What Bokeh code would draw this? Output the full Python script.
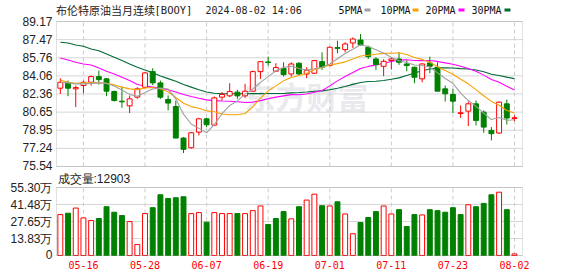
from bokeh.plotting import figure
from bokeh.models import Range1d, FixedTicker, Label, BoxAnnotation, ColumnDataSource
from bokeh.embed import file_html
from bokeh.resources import INLINE

# ---------------- data ----------------
dates = ["05-13","05-14","05-15","05-16","05-17","05-20","05-21","05-22","05-23","05-24",
         "05-27","05-28","05-29","05-30","05-31","06-03","06-04","06-05","06-06","06-07",
         "06-10","06-11","06-12","06-13","06-14","06-17","06-18","06-19","06-20","06-21",
         "06-24","06-25","06-26","06-27","06-28","07-01","07-02","07-03","07-04","07-05",
         "07-08","07-09","07-10","07-11","07-12","07-15","07-16","07-17","07-18","07-19",
         "07-22","07-23","07-24","07-25","07-26","07-29","07-30","07-31","08-01","08-02"]
tick_dates = ["05-16","05-28","06-07","06-19","07-01","07-11","07-23","08-02"]

opens = [82.90,83.40,82.84,83.15,83.46,83.99,83.78,82.59,81.68,81.24,
         82.06,82.99,84.46,83.40,81.84,81.18,78.21,77.30,78.77,80.02,
         79.43,82.06,82.18,82.53,82.18,82.62,84.46,85.37,84.50,84.78,
         84.24,85.25,84.24,84.31,85.40,85.03,86.72,86.53,87.15,87.43,
         86.75,85.65,84.96,85.50,85.65,85.18,84.87,83.78,85.28,84.87,
         82.84,82.31,80.52,80.74,81.43,80.65,78.93,78.68,81.43,80.06]
highs = [83.84,83.62,83.15,83.62,84.09,84.56,83.84,82.68,83.06,82.21,
         82.99,84.40,84.78,83.62,82.21,81.74,78.30,78.77,80.12,80.12,
         82.12,82.53,83.37,82.74,83.31,84.56,85.40,85.87,85.25,85.34,
         85.34,85.34,84.87,85.56,86.28,86.81,87.37,87.22,87.68,88.00,
         86.90,85.81,85.62,85.81,86.28,85.50,84.93,85.25,85.87,85.34,
         83.15,82.84,81.27,81.65,81.74,80.81,79.24,81.65,81.84,80.34]
lows = [82.37,82.15,81.12,82.43,83.15,83.24,82.15,81.65,81.06,80.56,
        81.90,82.90,83.21,81.90,80.81,78.21,76.80,77.21,78.46,79.24,
        79.37,81.74,82.06,81.90,81.99,82.62,83.78,85.03,84.43,83.99,
        83.99,84.09,83.84,84.24,84.62,84.96,86.18,86.28,86.68,86.90,
        85.65,84.62,84.03,84.65,85.09,84.50,83.37,83.46,84.31,82.62,
        81.65,80.56,80.12,79.34,79.40,78.71,77.99,78.62,79.49,79.80]
closes = [83.46,82.90,82.96,83.46,83.99,83.71,82.62,81.74,81.62,81.90,
          82.84,84.34,83.40,82.06,81.50,78.21,77.15,78.71,80.02,79.46,
          81.99,82.31,82.59,82.18,82.62,84.46,85.40,85.31,84.84,84.18,
          85.18,84.24,84.56,85.50,84.87,86.75,86.65,87.06,87.53,86.97,
          85.87,85.12,85.43,85.65,85.34,85.03,83.93,85.18,84.96,82.62,
          82.37,81.68,80.59,81.43,79.87,79.24,78.62,81.59,80.09,80.12]

ma5 = [83.46,83.40,83.31,83.31,83.35,83.40,83.35,83.10,82.74,82.32,
       82.14,82.49,82.82,82.91,82.83,81.90,80.46,79.53,79.12,78.71,
       79.47,80.50,81.27,81.71,82.34,82.83,83.45,83.99,84.53,84.84,
       84.98,84.75,84.60,84.73,84.87,85.18,85.67,86.17,86.57,86.99,
       86.82,86.51,86.18,85.81,85.48,85.31,85.08,85.03,84.89,84.34,
       83.81,83.36,82.44,81.74,81.19,80.56,79.95,80.15,79.88,79.93]
ma10 = [83.68,83.46,83.37,83.40,83.40,83.40,83.37,83.21,83.00,82.84,
        82.77,82.92,82.96,82.82,82.57,82.02,81.48,81.17,81.01,80.77,
        80.68,80.48,80.40,80.41,80.52,81.15,81.97,82.63,83.12,83.59,
        83.91,84.10,84.30,84.63,84.85,85.08,85.21,85.38,85.65,85.93,
        86.00,86.09,86.18,86.19,86.24,86.07,85.79,85.61,85.35,84.91,
        84.56,84.22,83.74,83.31,82.77,82.19,81.66,81.30,80.81,80.56]
ma20 = [85.75,85.56,85.34,85.18,85.09,84.81,84.50,84.24,83.93,83.62,
        83.25,83.10,83.00,82.90,82.75,82.55,82.30,82.12,81.95,81.80,
        81.73,81.70,81.68,81.62,81.55,81.59,81.73,81.90,82.06,82.18,
        82.30,82.29,82.35,82.52,82.69,83.12,83.59,84.01,84.38,84.76,
        84.95,85.09,85.24,85.41,85.55,85.57,85.50,85.49,85.50,85.42,
        85.28,85.15,84.96,84.75,84.50,84.13,83.72,83.45,83.08,82.74]
ma30 = [87.22,87.15,86.97,86.84,86.59,86.43,86.12,85.81,85.50,85.18,
        84.87,84.62,84.35,84.05,83.80,83.55,83.25,83.00,82.75,82.55,
        82.42,82.38,82.38,82.38,82.38,82.39,82.39,82.40,82.40,82.40,
        82.46,82.50,82.55,82.62,82.65,82.75,82.89,83.06,83.26,83.43,
        83.53,83.56,83.62,83.74,83.87,84.10,84.33,84.54,84.71,84.81,
        84.82,84.80,84.74,84.71,84.62,84.45,84.22,84.10,83.94,83.80]

# volume in 万 (10k)
volumes = [33.3,34.4,38.6,30.6,28.5,30.1,39.7,35.2,32.5,27.6,
           8.9,34.1,38.9,49.4,46.4,47.0,47.8,34.1,34.9,27.1,
           34.9,34.1,34.1,34.1,34.1,36.5,40.3,25.2,30.1,35.7,
           29.8,39.7,45.1,49.9,40.5,40.3,43.7,33.8,17.7,26.8,
           30.9,35.7,40.3,33.8,37.3,23.6,33.3,33.0,37.3,36.5,
           35.2,38.9,33.3,41.3,39.7,42.4,49.4,51.5,37.3,1.2903]
vol_up = [1,0,1,1,1,0,0,0,0,1, 1,1,0,0,0,0,0,1,1,0,
          1,1,1,0,1,1,1,0,0,0, 1,0,1,1,0,1,0,1,1,0,
          0,0,1,1,0,0,0,1,0,0, 0,0,0,1,0,0,0,1,0,1]

price_ticks = [75.54, 77.24, 78.95, 80.65, 82.36, 84.06, 85.76, 87.47, 89.17]
vol_ticks = [0, 13.83, 27.65, 41.48, 55.30]
vol_tick_labels = ["0", "13.83万", "27.65万", "41.48万", "55.30万"]
title_name = "布伦特原油当月连续"
title_code = "[BOOY]"
title_time = "2024-08-02 14:06"
last_volume_text = "成交量:12903"
ma_names = ["5PMA", "10PMA", "20PMA", "30PMA"]

# ---------------- styles / layout ----------------
RED = "#ff0000"
GREEN = "#008000"
MA_COLORS = ["#a0a0a0", "#f5a300", "#ff00ff", "#006b36"]
GRID_H = "#d6d6d6"
GRID_V = "#cccccc"
FRAME = "#9a9a9a"
TXT = "#222222"
MONO = "DejaVu Sans Mono"
SANS = "Liberation Sans"
CJK = "Noto Sans CJK SC"

n = len(dates)
idx = list(range(n))
# data areas on the page (pixels) and their data extents
X0, X1 = -0.5, 60.04          # page x 56 .. 522
P_LO, P_HI = 75.535, 89.175   # page y 166 .. 21  (price pane)
V_LO, V_HI = 0.0, 55.32       # page y 255 .. 187 (volume pane)
KX = (X1 - X0) / 466.0
KP = (P_HI - P_LO) / 145.0
KV = (V_HI - V_LO) / 68.0
FRAME_BOTTOM = 256            # frame covers page y 0 .. 256, x 55 .. 523

def xpx(px):
    return X0 + (px - 56) * KX

def ypx_price(py):
    return P_HI - (py - 21) * KP

def ypx_vol(py):
    return V_HI - (py - 187) * KV

def vol_to_price(vv):
    return round(ypx_price(255 - (vv - V_LO) / KV), 4)

x_range = Range1d(X0 - KX, X1 + KX)
y_range = Range1d(ypx_price(FRAME_BOTTOM), ypx_price(0))
vol_range = Range1d(ypx_vol(FRAME_BOTTOM), ypx_vol(0))

tick_idx = [dates.index(d) for d in tick_dates]

p = figure(width=578, height=276, x_range=x_range, y_range=y_range,
           min_border_left=55, min_border_right=55, min_border_top=0,
           min_border_bottom=276 - FRAME_BOTTOM,
           output_backend="svg", toolbar_location=None)
p.extra_y_ranges = {"vol": vol_range}
p.background_fill_color = "white"
p.border_fill_color = "white"
p.outline_line_color = None
p.grid.visible = False

# left axis: price ticks for the upper pane, volume ticks for the lower pane
ya = p.yaxis[0]
vol_tick_pos = [vol_to_price(t) for t in vol_ticks]
ya.ticker = FixedTicker(ticks=price_ticks + vol_tick_pos)
overrides = {t: f"{t:.2f}" for t in price_ticks}
overrides.update({pos: lab for pos, lab in zip(vol_tick_pos, vol_tick_labels)})
ya.major_label_overrides = overrides
ya.axis_line_color = None
ya.major_tick_line_color = None
ya.minor_tick_line_color = None
ya.major_tick_out = 0
ya.major_tick_in = 0
ya.major_label_standoff = 3
ya.major_label_text_font = SANS
ya.major_label_text_font_size = "12px"
ya.major_label_text_color = TXT

xa = p.xaxis[0]
xa.ticker = FixedTicker(ticks=tick_idx)
xa.major_label_overrides = {i: d for i, d in zip(tick_idx, tick_dates)}
xa.axis_line_color = None
xa.major_tick_line_color = None
xa.minor_tick_line_color = None
xa.major_tick_out = 0
xa.major_tick_in = 0
xa.major_label_standoff = 4
xa.major_label_text_font = MONO
xa.major_label_text_font_size = "10px"
xa.major_label_text_color = RED

# ---- grids (only inside the two panes) ----
p.segment(x0=[X0] * len(price_ticks), x1=[X1] * len(price_ticks), y0=price_ticks, y1=price_ticks,
          line_color=GRID_H, line_width=1)
p.segment(x0=tick_idx, x1=tick_idx, y0=[P_LO] * len(tick_idx), y1=[P_HI] * len(tick_idx),
          line_color=GRID_V, line_width=1, line_dash="4 3")
p.segment(x0=[X0] * len(vol_ticks), x1=[X1] * len(vol_ticks), y0=vol_ticks, y1=vol_ticks,
          line_color=GRID_H, line_width=1, y_range_name="vol")
p.segment(x0=tick_idx, x1=tick_idx, y0=[V_LO] * len(tick_idx), y1=[V_HI] * len(tick_idx),
          line_color=GRID_V, line_width=1, line_dash="4 3", y_range_name="vol")

# watermark
p.add_layout(Label(x=xpx(244), y=ypx_price(95), text="东方财富", text_font=CJK,
                   text_font_size="31px", text_font_style="bold", text_color="#e9e9ee",
                   text_baseline="middle", text_align="left", level="underlay"))

# ---- candles and moving averages ----
is_up = [c >= o for o, c in zip(opens, closes)]
cs = ColumnDataSource(dict(
    x=idx, high=highs, low=lows,
    top=[max(o, c) if abs(c - o) > 0.03 else (o + c) / 2 + 0.015 for o, c in zip(opens, closes)],
    bottom=[min(o, c) if abs(c - o) > 0.03 else (o + c) / 2 - 0.015 for o, c in zip(opens, closes)],
    line=[RED if u else GREEN for u in is_up],
    fill=["white" if u else GREEN for u in is_up],
))
for ser, col in zip([ma30, ma20], [MA_COLORS[3], MA_COLORS[2]]):
    p.line(idx, ser, line_color=col, line_width=1.1)
p.segment(x0="x", y0="low", x1="x", y1="high", line_color="line", line_width=1, source=cs)
p.vbar(x="x", width=0.64, top="top", bottom="bottom", fill_color="fill", line_color="line",
       line_width=1, source=cs)
for ser, col in zip([ma10, ma5], [MA_COLORS[1], MA_COLORS[0]]):
    p.line(idx, ser, line_color=col, line_width=1.1)

# ---- volume bars ----
vs = ColumnDataSource(dict(
    x=idx, top=volumes,
    line=[RED if u else GREEN for u in vol_up],
    fill=["white" if u else GREEN for u in vol_up],
))
p.vbar(x="x", width=0.64, top="top", bottom=0, fill_color="fill", line_color="line",
       line_width=1, source=vs, y_range_name="vol")

# ---- pane frames ----
p.add_layout(BoxAnnotation(left=X0, right=X1, bottom=P_LO, top=P_HI, fill_alpha=0,
                           line_color=FRAME, line_width=1))
p.add_layout(BoxAnnotation(left=X0, right=X1, bottom=V_LO, top=V_HI, fill_alpha=0,
                           line_color=FRAME, line_width=1, y_range_name="vol"))

# ---- header texts ----
hy = ypx_price(9.5)
p.add_layout(Label(x=xpx(55.5), y=hy, text=title_name, text_font=CJK, text_font_size="11px",
                   text_color=TXT, text_baseline="middle", text_align="left"))
p.add_layout(Label(x=xpx(154), y=hy, text=title_code, text_font=MONO, text_font_size="10.5px",
                   text_color=TXT, text_baseline="middle", text_align="left"))
p.add_layout(Label(x=xpx(205), y=hy, text=title_time, text_font=MONO, text_font_size="10px",
                   text_color=TXT, text_baseline="middle", text_align="left"))
leg_x = [338, 380, 425, 471]
sw_x = [364, 412, 458, 504]
for name, lx, sx, col in zip(ma_names, leg_x, sw_x, MA_COLORS):
    p.add_layout(Label(x=xpx(lx), y=hy, text=name, text_font=MONO, text_font_size="10px",
                       text_color="#111111", text_baseline="middle", text_align="left"))
    p.add_layout(BoxAnnotation(left=xpx(sx), right=xpx(sx + 6), top=ypx_price(8),
                               bottom=ypx_price(11), fill_color=col, fill_alpha=1,
                               line_color=None))

p.add_layout(Label(x=xpx(57), y=ypx_price(178), text=last_volume_text, text_font=SANS,
                   text_font_size="12px", text_color=TXT, text_baseline="middle",
                   text_align="left"))

open("out.html", "w").write(file_html(p, INLINE))
